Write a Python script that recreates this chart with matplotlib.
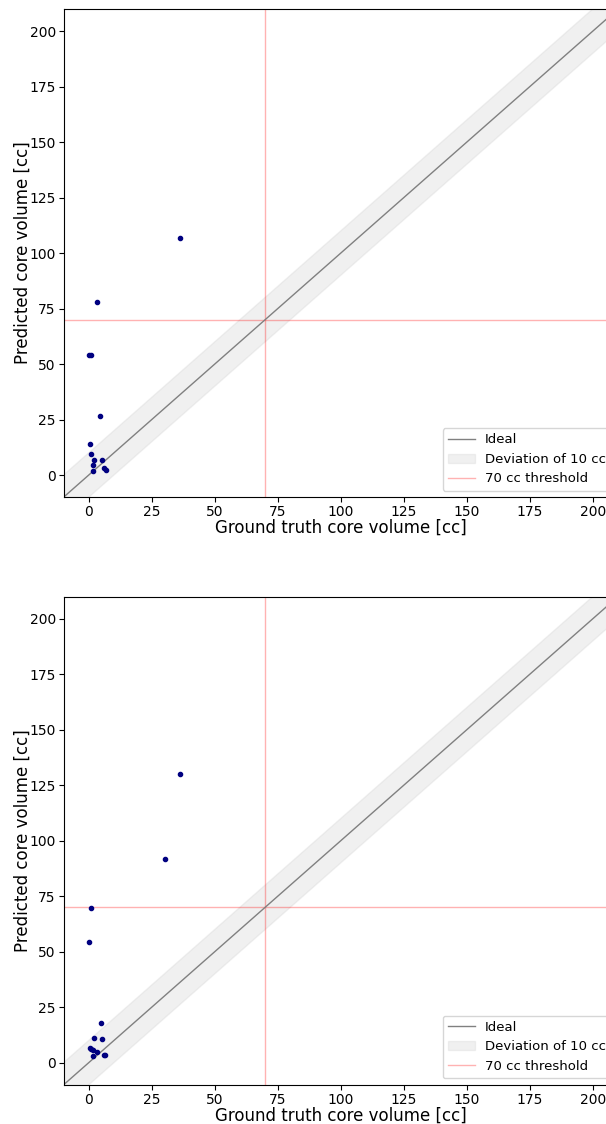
import numpy as np
import matplotlib
matplotlib.use("Agg")
import matplotlib.pyplot as plt

# Core volumes (cc): ground truth vs. predicted, two models
gt_a = [4.6, 0.5, 0.8, 2.1, 5.4, 1.8, 1.6, 6.2, 6.7, 36.1, 3.3, 0.0, 0.8]
pred_a = [26.8, 13.9, 9.7, 6.7, 7.0, 4.4, 1.8, 3.4, 2.2, 106.8, 77.8, 54.0, 54.0]

gt_b = [36.1, 30.4, 0.9, 0.1, 4.8, 2.1, 5.3, 0.5, 0.9, 1.6, 3.3, 1.8, 6.1, 6.6]
pred_b = [130.2, 91.8, 69.5, 54.4, 17.8, 11.1, 10.7, 6.6, 6.2, 5.7, 4.6, 3.0, 3.6, 3.6]

threshold = 70
deviation = 10
ticks = [0, 25, 50, 75, 100, 125, 150, 175, 200]

fig = plt.figure(figsize=(6.06, 11.24), dpi=100)
positions = [[0.1048, 0.5576, 0.9149, 0.4344],
             [0.1048, 0.0348, 0.9149, 0.4344]]

for pos, gt, pred in zip(positions, [gt_a, gt_b], [pred_a, pred_b]):
    ax = fig.add_axes(pos)
    diag = np.array([-30, 240])
    ax.plot(diag, diag, color="gray", lw=1, label="Ideal", zorder=2)
    ax.fill_between(diag, diag - deviation, diag + deviation, color="lightgray",
                    alpha=0.33, label=f"Deviation of {deviation} cc", zorder=1)
    ax.axhline(threshold, color="red", alpha=0.3, lw=1,
               label=f"{threshold} cc threshold", zorder=1)
    ax.axvline(threshold, color="red", alpha=0.3, lw=1, zorder=1)
    ax.scatter(gt, pred, s=9, color="navy", zorder=3)
    ax.set_xlim(-10, 210)
    ax.set_ylim(-10, 210)
    ax.set_xticks(ticks)
    ax.set_yticks(ticks)
    ax.tick_params(labelsize=10, pad=2)
    ax.set_xlabel("Ground truth core volume [cc]", fontsize=12, labelpad=0)
    ax.set_ylabel("Predicted core volume [cc]", fontsize=12, labelpad=-1.5)
    ax.legend(loc="lower right", fontsize=9.5)

fig.savefig("out.png", dpi=100)
